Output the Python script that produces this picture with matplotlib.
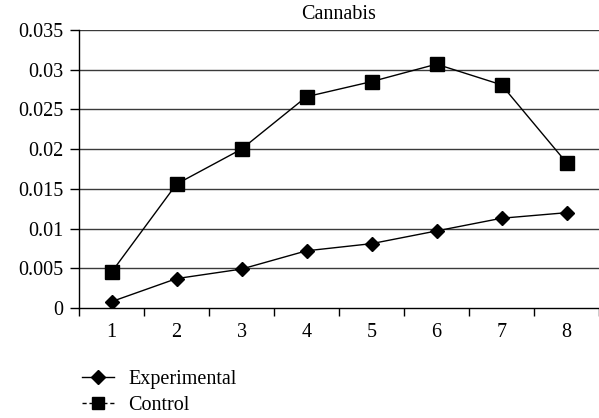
import matplotlib
matplotlib.use("Agg")
import matplotlib.pyplot as plt
from matplotlib.lines import Line2D

categories = [1, 2, 3, 4, 5, 6, 7, 8]
experimental = [0.0008, 0.0037, 0.0049, 0.0072, 0.0081, 0.0097, 0.0113, 0.0120]
control = [0.0045, 0.0156, 0.0200, 0.0266, 0.0285, 0.0307, 0.0281, 0.0183]
y_ticks = [0, 0.005, 0.01, 0.015, 0.02, 0.025, 0.03, 0.035]
y_labels = ["0", "0.005", "0.01", "0.015", "0.02", "0.025", "0.03", "0.035"]

plt.rcParams['font.family'] = ['Liberation Serif', 'DejaVu Serif']

fig = plt.figure(figsize=(5.99, 4.18), dpi=100)
# axes box in pixels: left 79, right 599, top 30, bottom 308
ax = fig.add_axes([79 / 599, 1 - 308 / 418, 520 / 599, 278 / 418])

ax.plot(categories, experimental, color='black', lw=1, marker='D', ms=7, label='Experimental')
ax.plot(categories, control, color='black', lw=1, marker='s', ms=9.5, label='Control')

ax.set_xlim(0.5, 8.5)
ax.set_ylim(0, 0.035)
ax.set_yticks(y_ticks)
ax.set_yticklabels(y_labels)
ax.set_xticks(categories)
ax.set_xticks([c + 0.5 for c in [0] + categories], minor=True)
ax.tick_params(axis='x', which='major', length=0, labelsize=14.5, pad=11)
ax.tick_params(axis='x', which='minor', length=6, width=1, direction='out')
ax.tick_params(axis='y', length=6.5, width=1, direction='out', labelsize=14.5, pad=5)
for y in y_ticks[1:]:
    ax.axhline(y, color='#3a3a3a', lw=1, zorder=0)
for s in ['top', 'right']:
    ax.spines[s].set_visible(False)
ax.spines['left'].set_linewidth(1)
ax.spines['bottom'].set_linewidth(1)

ax.set_title("Cannabis", fontsize=14.5, pad=8)

handles = [Line2D([], [], color='black', lw=1, marker='D', ms=7),
           Line2D([], [], color='black', lw=1, ls=(0, (3, 2)), marker='s', ms=8)]
fig.legend(handles, ['Experimental', 'Control'], loc='upper left',
           bbox_to_anchor=(82 / 599, 1 - 370 / 418), frameon=False,
           fontsize=14.5, handlelength=1.6, handletextpad=0.7, labelspacing=0.35,
           borderpad=0, borderaxespad=0)

fig.savefig("out.png", dpi=100)
